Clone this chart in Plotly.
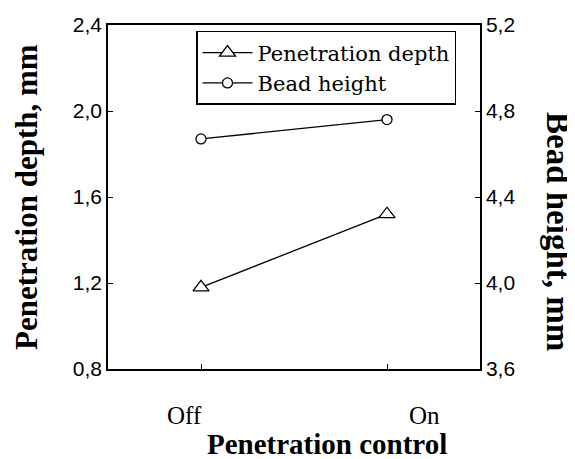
import plotly.graph_objects as go

categories = ["Off", "On"]
penetration_depth = [1.18, 1.52]
bead_height = [4.67, 4.76]
left_ticks = [0.8, 1.2, 1.6, 2.0, 2.4]
left_ticktext = ["0,8", "1,2", "1,6", "2,0", "2,4"]
right_ticks = [3.6, 4.0, 4.4, 4.8, 5.2]
right_ticktext = ["3,6", "4,0", "4,4", "4,8", "5,2"]

serif = "Liberation Serif, Times New Roman, serif"
wide_serif = "DejaVu Serif, serif"
narrow = "Liberation Sans Narrow, Arial Narrow, sans-serif"

fig = go.Figure()
fig.add_trace(go.Scatter(
    x=[0, 1], y=penetration_depth, name="Penetration depth", mode="lines+markers",
    line=dict(color="black", width=1.3),
    marker=dict(symbol="triangle-up", size=14, color="white", line=dict(color="black", width=1.3)),
    yaxis="y"))
fig.add_trace(go.Scatter(
    x=[0, 1], y=bead_height, name="Bead height", mode="lines+markers",
    line=dict(color="black", width=1.3),
    marker=dict(symbol="circle", size=10, color="white", line=dict(color="black", width=1.3)),
    yaxis="y2"))

axis_common = dict(showgrid=False, zeroline=False, showline=True, linecolor="black", linewidth=1.5,
                   ticks="inside", ticklen=5, tickcolor="black", automargin=False)

annotations = [
    dict(text="<b>Penetration depth, mm</b>", textangle=-90, xref="paper", yref="paper",
         x=0, xanchor="center", xshift=-82, y=0.5, yanchor="middle", yshift=0, showarrow=False,
         font=dict(family=serif, size=31, color="black")),
    dict(text="<b>Bead height, mm</b>", textangle=90, xref="paper", yref="paper",
         x=1.0, xanchor="center", xshift=78, y=0.5, yanchor="middle", yshift=-34, showarrow=False,
         font=dict(family=serif, size=33, color="black")),
    dict(text="<b>Penetration control</b>", xref="paper", yref="paper",
         x=0.5, xanchor="center", xshift=33, y=0, yshift=-75, showarrow=False, yanchor="middle",
         font=dict(family=serif, size=29, color="black")),
]
shifts = [-17, 37]
for i, c in enumerate(categories):
    annotations.append(dict(text=c, xref="x", yref="paper", x=i, xanchor="center", xshift=shifts[i],
                            y=0, yshift=-46, yanchor="middle", showarrow=False,
                            font=dict(family=serif, size=25, color="black")))

fig.update_layout(
    width=567, height=451,
    margin=dict(l=100, r=95, t=17, b=90, autoexpand=False),
    paper_bgcolor="white", plot_bgcolor="white",
    showlegend=True,
    legend=dict(x=0.2366, y=0.9826, xanchor="left", yanchor="top",
                bordercolor="black", borderwidth=1.5, bgcolor="white",
                font=dict(family=wide_serif, size=21, color="black"),
                itemwidth=50, tracegroupgap=0),
    xaxis=dict(range=[-0.5, 1.5], tickvals=[0, 1], ticktext=categories, showticklabels=False,
               mirror=True, **axis_common),
    yaxis=dict(range=[0.8, 2.4], tickvals=left_ticks, ticktext=left_ticktext,
               tickfont=dict(family=narrow, size=21, color="black"), **axis_common),
    yaxis2=dict(range=[3.6, 5.2], tickvals=right_ticks, ticktext=right_ticktext, overlaying="y", side="right",
                tickfont=dict(family=narrow, size=21, color="black"), **axis_common),
    annotations=annotations,
)

fig.write_html("out.html")
